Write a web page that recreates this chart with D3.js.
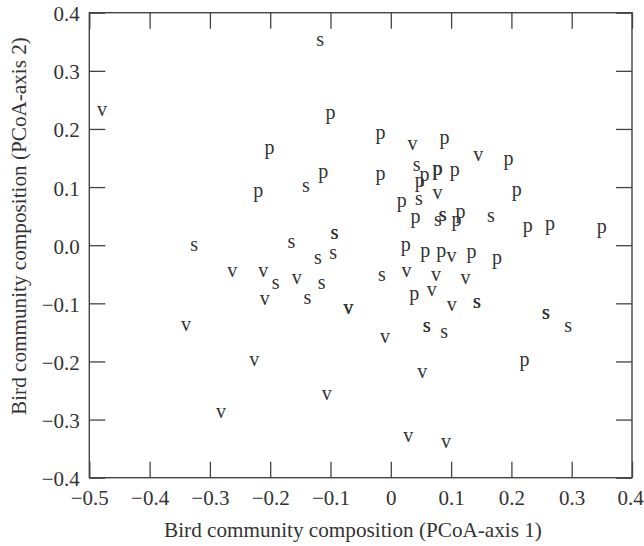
<!DOCTYPE html>
<html>
<head>
<meta charset="utf-8">
<script src="https://cdn.jsdelivr.net/npm/d3@7"></script>
<style>
  body { margin: 0; background: #fff; }
  text { font-family: "Liberation Serif", "Times New Roman", serif; fill: #333; }
</style>
</head>
<body>
<div id="chart"></div>
<script>
// PCoA scores, one array per habitat letter
var pSites = [
    [-0.100, 0.224], [-0.201, 0.164], [-0.112, 0.124], [-0.220, 0.090],
    [-0.017, 0.190], [0.089, 0.182], [0.195, 0.145], [-0.017, 0.120],
    [0.056, 0.118], [0.077, 0.129], [0.078, 0.129], [0.106, 0.126],
    [0.048, 0.108], [0.209, 0.093], [0.018, 0.073], [0.041, 0.045],
    [0.1156, 0.055], [0.109, 0.040], [0.227, 0.030], [0.264, 0.033],
    [0.350, 0.029], [0.025, -0.002], [0.057, -0.012], [0.0836, -0.012],
    [0.134, -0.015], [0.176, -0.024], [0.039, -0.087], [0.2217, -0.201]
];
var sSites = [
    [-0.117, 0.350], [-0.141, 0.099], [0.043, 0.136], [0.0468, 0.077],
    [0.078, 0.040], [0.0857, 0.050], [0.0862, 0.050], [0.166, 0.047],
    [-0.0146, -0.054], [0.1425, -0.101], [0.1430, -0.101], [0.257, -0.119],
    [0.2575, -0.119], [0.294, -0.142], [0.0595, -0.142], [0.0600, -0.142],
    [0.0886, -0.152], [-0.326, -0.003], [-0.165, 0.003], [-0.0937, 0.018],
    [-0.0932, 0.018], [-0.121, -0.025], [-0.0954, -0.017], [-0.191, -0.068],
    [-0.1146, -0.068], [-0.1385, -0.094]
];
var vSites = [
    [-0.479, 0.230], [0.036, 0.172], [0.145, 0.153], [0.0774, 0.087],
    [0.1007, -0.021], [0.026, -0.048], [0.075, -0.054], [0.124, -0.059],
    [0.068, -0.080], [0.101, -0.105], [-0.0096, -0.160], [0.052, -0.221],
    [0.029, -0.331], [0.0915, -0.341], [-0.263, -0.047], [-0.2114, -0.047],
    [-0.156, -0.059], [-0.209, -0.095], [-0.0705, -0.110], [-0.0700, -0.110],
    [-0.3396, -0.140], [-0.2264, -0.200], [-0.1063, -0.259], [-0.2816, -0.290]
];

var xTicks = [-0.5, -0.4, -0.3, -0.2, -0.1, 0, 0.1, 0.2, 0.3, 0.4];
var yTicks = [-0.4, -0.3, -0.2, -0.1, 0, 0.1, 0.2, 0.3, 0.4];

var xTitle = "Bird community composition (PCoA-axis 1)";
var yTitle = "Bird community composition (PCoA-axis 2)";

var totalW = 644, totalH = 546;
var margin = {top: 12.7, right: 12, bottom: 68.3, left: 89.3};
var width = totalW - margin.left - margin.right;
var height = totalH - margin.top - margin.bottom;

var svg = d3.select("#chart")
    .append("svg")
        .attr("width", totalW)
        .attr("height", totalH)
    .append("g")
        .attr("transform", "translate(" + margin.left + "," + margin.top + ")");

var x = d3.scaleLinear().domain([-0.5, 0.4]).range([0, width]);
var y = d3.scaleLinear().domain([-0.4, 0.4]).range([height, 0]);

var fmtX = d => Math.abs(d) < 1e-9 ? "0" : d3.format(".1f")(d);
var fmtY = d => d3.format(".1f")(Math.abs(d) < 1e-9 ? 0 : d);

// Ticks point inward on all four sides
var tickLen = 16;
var bottomAxis = svg.append("g")
    .attr("transform", "translate(0," + height + ")")
    .call(d3.axisBottom(x).tickValues(xTicks).tickFormat(fmtX).tickSizeInner(-tickLen).tickSizeOuter(0))
    .call(g => g.select(".domain").remove());
svg.append("g")
    .call(d3.axisTop(x).tickValues(xTicks).tickFormat("").tickSizeInner(-tickLen).tickSizeOuter(0))
    .call(g => g.select(".domain").remove());
var leftAxis = svg.append("g")
    .call(d3.axisLeft(y).tickValues(yTicks).tickFormat(fmtY).tickSizeInner(-tickLen).tickSizeOuter(0))
    .call(g => g.select(".domain").remove());
svg.append("g")
    .attr("transform", "translate(" + width + ",0)")
    .call(d3.axisRight(y).tickValues(yTicks).tickFormat("").tickSizeInner(-tickLen).tickSizeOuter(0))
    .call(g => g.select(".domain").remove());

svg.selectAll(".tick line").attr("stroke", "#444").attr("stroke-width", 1.3);
svg.selectAll(".tick text")
    .style("font-family", "'Liberation Serif', serif")
    .attr("font-size", 21)
    .attr("fill", "#333");
// place the labels by hand
bottomAxis.selectAll(".tick text")
    .attr("y", 27.3)
    .attr("dy", 0)
    .attr("dx", (d, i, n) => i === n.length - 1 ? -2 : 0);  // keep "0.4" inside the page
leftAxis.selectAll(".tick text").attr("x", -9.5).attr("dy", "0.38em");

// Frame
svg.append("rect")
    .attr("width", width)
    .attr("height", height)
    .attr("fill", "none")
    .attr("stroke", "#444")
    .attr("stroke-width", 1.4);

// Site letters
var groups = [["p", pSites], ["s", sSites], ["v", vSites]];
groups.forEach(function(g) {
    svg.append("g")
        .selectAll("text")
        .data(g[1])
        .join("text")
            .attr("x", d => x(d[0]))
            .attr("y", d => y(d[1]))
            .attr("dy", "0.22em")
            .attr("text-anchor", "middle")
            .attr("font-size", 20)
            .text(g[0]);
});

// Axis titles
svg.append("text")
    .attr("x", 353 - margin.left)
    .attr("y", 536.7 - margin.top)
    .attr("text-anchor", "middle")
    .attr("font-size", 21.2)
    .text(xTitle);

svg.append("text")
    .attr("transform", "translate(" + (25.5 - margin.left) + "," + (226 - margin.top) + ") rotate(-90)")
    .attr("text-anchor", "middle")
    .attr("font-size", 21.2)
    .text(yTitle);
</script>
</body>
</html>
